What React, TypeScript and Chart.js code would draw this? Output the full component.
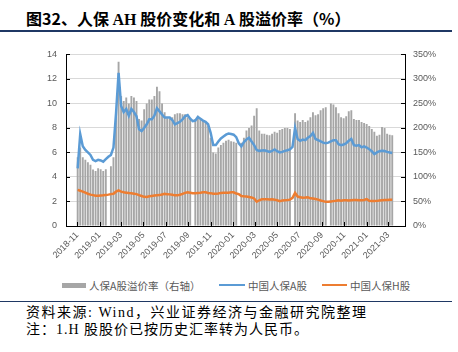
import React, { useEffect, useRef } from "react";
import { Chart, registerables } from "chart.js";

Chart.register(...registerables);

// ---------- data ----------
const AXIS_START = "2018-11-01";
const FIRST_WEEK = "2018-11-02";
const AXIS_END_DAYS = 866;

const tickLabels = [
  "2018-11", "2019-01", "2019-03", "2019-05", "2019-07", "2019-09", "2019-11",
  "2020-01", "2020-03", "2020-05", "2020-07", "2020-09", "2020-11", "2021-01", "2021-03",
];

// 中国人保A股 (元)
const aShare = [
  4.7, 7.5, 6.5, 6.2, 6.0, 5.8, 5.4, 5.3, 5.4, 5.35,
  5.25, 5.45, 5.65, 5.8, 6.4, 9.2, 12.5, 9.8, 9.3, 9.55,
  9.0, 9.55, 9.3, 8.95, 7.9, 7.75, 8.0, 8.3, 8.7, 8.7,
  9.0, 9.6, 9.35, 9.1, 8.85, 8.85, 8.85, 8.65, 8.3, 8.4,
  8.5, 8.7, 8.95, 9.05, 8.75, 8.55, 8.6, 8.9, 8.75, 8.6,
  8.5, 8.3, 7.6, 6.6, 6.6, 6.9, 7.15, 7.3, 7.45, 7.55,
  7.5, 7.45, 7.25, 6.75, 6.5, 6.85, 7.05, 7.2, 6.9, 6.6,
  6.2, 6.13, 6.15, 6.17, 6.12, 6.05, 6.12, 6.25, 6.1, 6.0,
  6.05, 6.13, 6.18, 6.25, 6.45, 8.0, 7.1, 6.95, 7.05, 7.0,
  7.2, 7.34, 7.6, 7.1, 7.0, 6.9, 6.8, 6.75, 6.8, 6.9,
  7.0, 7.0, 6.67, 6.6, 6.65, 6.75, 6.95, 7.1, 6.6, 6.55,
  6.6, 6.42, 6.5, 6.4, 6.27, 6.1, 5.86, 6.0, 6.1, 6.13,
  6.12, 6.05, 6.0, 5.95,
];

// 中国人保H股 (元, 人民币)
const hShare = [
  2.95, 2.88, 2.8, 2.72, 2.63, 2.56, 2.52, 2.47, 2.46, 2.48,
  2.5, 2.53, 2.56, 2.6, 2.63, 2.8, 2.9, 2.8, 2.75, 2.72,
  2.69, 2.67, 2.64, 2.6, 2.52, 2.45, 2.38, 2.36, 2.42, 2.45,
  2.48, 2.5, 2.52, 2.57, 2.62, 2.6, 2.58, 2.55, 2.5, 2.5,
  2.55, 2.62, 2.7, 2.75, 2.72, 2.68, 2.68, 2.7, 2.72, 2.75,
  2.75, 2.7, 2.68, 2.63, 2.63, 2.65, 2.7, 2.72, 2.72, 2.72,
  2.75, 2.75, 2.65, 2.6, 2.45, 2.42, 2.4, 2.37, 2.33, 2.25,
  1.98, 2.1, 2.18, 2.18, 2.18, 2.16, 2.18, 2.15, 2.1, 2.03,
  2.08, 2.1, 2.12, 2.15, 2.3, 2.7, 2.4, 2.35, 2.3, 2.32,
  2.35, 2.26, 2.24, 2.2, 2.15, 2.08, 2.03, 1.97, 1.97, 2.0,
  2.03, 2.06, 2.1, 2.07, 2.1, 2.1, 2.08, 2.1, 2.12, 2.12,
  2.1, 2.1, 2.12, 2.2, 2.05, 2.03, 2.03, 2.05, 2.08, 2.1,
  2.12, 2.13, 2.15, 2.15,
];

// 人保A股溢价率 (%, 右轴)
const premium = [
  140, 160, 140, 135, 130, 125, 115, 112, 118, 116,
  112, 116, null, 122, 140, 230, 335, 265, 255, 262,
  250, 265, 262, 255, 218, 215, 238, 250, 258, 258,
  265, 284, 275, 250, 232, 220, 218, 222, 228, 230,
  230, 228, 228, 222, 218, null, 218, 225, 220, 215,
  212, 205, 180, 150, 148, 160, 165, 170, 174, 176,
  173, 172, 170, null, 170, 180, 195, 200, 205, 225,
  240, 195, 188, 188, 186, 185, 188, 192, 190, 196,
  198, 200, 200, 198, null, 230, 215, 212, 216, 212,
  215, 222, 232, 226, 228, 236, 240, 242, null, 250,
  248, 242, 230, 222, 220, 224, 234, 236, 218, 216,
  216, 212, 210, 208, 204, 198, 192, 184, 186, 202,
  200, 188, 186, 185,
];

const seriesNames = ["人保A股溢价率（右轴）", "中国人保A股", "中国人保H股"];
const colors = { bar: "#a6a6a6", a: "#5b9bd5", h: "#ed7d31" };

// ---------- helpers ----------
const daysBetween = (a: string, b: string) =>
  Math.round((Date.parse(b + "T00:00:00Z") - Date.parse(a + "T00:00:00Z")) / 86400000);
const firstOffset = daysBetween(AXIS_START, FIRST_WEEK);
const weekX = aShare.map((_, i) => firstOffset + 7 * i);
const tickDays = tickLabels.map((l) => daysBetween(AXIS_START, l + "-01"));

const innerTicks = {
  id: "innerTicks",
  afterDraw(chart: any) {
    const { ctx, chartArea, scales } = chart;
    ctx.save();
    ctx.strokeStyle = "#000";
    ctx.lineWidth = 1;
    ctx.beginPath();
    scales.y.ticks.forEach((t: any) => {
      const py = Math.round(scales.y.getPixelForValue(t.value)) + 0.5;
      ctx.moveTo(chartArea.left, py);
      ctx.lineTo(chartArea.left + 4, py);
    });
    scales.y1.ticks.forEach((t: any) => {
      const py = Math.round(scales.y1.getPixelForValue(t.value)) + 0.5;
      ctx.moveTo(chartArea.right, py);
      ctx.lineTo(chartArea.right - 4, py);
    });
    scales.x.ticks.forEach((t: any) => {
      const px = Math.round(scales.x.getPixelForValue(t.value)) + 0.5;
      ctx.moveTo(px, chartArea.bottom);
      ctx.lineTo(px, chartArea.bottom - 4);
    });
    ctx.stroke();
    ctx.restore();
  },
};

const tickFont = { family: "'Liberation Sans', Arial, sans-serif", size: 9 };
const CJK = "'Noto Sans CJK SC', sans-serif";
const SERIF = "'Liberation Serif', 'Times New Roman', serif";

export default function App() {
  const ref = useRef<HTMLCanvasElement | null>(null);

  useEffect(() => {
    if (!ref.current) return;
    const chart = new Chart(ref.current, {
      type: "bar",
      data: {
        datasets: [
          {
            type: "line",
            label: seriesNames[1],
            data: weekX.map((x, i) => ({ x, y: aShare[i] })),
            borderColor: colors.a,
            borderWidth: 2.5,
            pointRadius: 0,
            tension: 0,
            yAxisID: "y",
            order: 1,
          },
          {
            type: "line",
            label: seriesNames[2],
            data: weekX.map((x, i) => ({ x, y: hShare[i] })),
            borderColor: colors.h,
            borderWidth: 2.5,
            pointRadius: 0,
            tension: 0,
            yAxisID: "y",
            order: 2,
          },
          {
            type: "bar",
            label: seriesNames[0],
            data: weekX.map((x, i) => ({ x, y: premium[i] })),
            backgroundColor: colors.bar,
            barPercentage: 1,
            categoryPercentage: 0.74,
            yAxisID: "y1",
            order: 3,
          },
        ] as any,
      },
      options: {
        animation: false,
        responsive: false,
        maintainAspectRatio: false,
        layout: { padding: { top: 12, left: 0, right: 0, bottom: 0 } },
        plugins: { legend: { display: false }, tooltip: { enabled: false } },
        scales: {
          x: {
            type: "linear",
            min: 0,
            max: AXIS_END_DAYS,
            afterBuildTicks: (s: any) => {
              s.ticks = tickDays.map((v) => ({ value: v }));
            },
            afterFit: (s: any) => {
              s.height = 49;
            },
            grid: { display: false, drawOnChartArea: false, drawTicks: false },
            border: { display: true, color: "#000", width: 1, z: 1 },
            ticks: {
              autoSkip: false,
              minRotation: 45,
              maxRotation: 45,
              padding: 4,
              color: "#595959",
              font: tickFont,
              callback: (_v: any, i: number) => tickLabels[i],
            },
          },
          y: {
            position: "left",
            min: 0,
            max: 14,
            afterFit: (s: any) => {
              s.width = 66;
            },
            grid: { color: "#d9d9d9", drawTicks: false },
            border: { color: "#000", width: 1, z: 1 },
            ticks: { stepSize: 2, padding: 9, color: "#595959", font: tickFont },
          },
          y1: {
            position: "right",
            min: 0,
            max: 350,
            afterFit: (s: any) => {
              s.width = 53;
            },
            grid: { drawOnChartArea: false, drawTicks: false },
            border: { color: "#000", width: 1, z: 1 },
            ticks: {
              stepSize: 50,
              padding: 8,
              color: "#595959",
              font: tickFont,
              callback: (v: any) => v + "%",
            },
          },
        } as any,
      },
      plugins: [innerTicks],
    });
    return () => chart.destroy();
  }, []);

  const legendText: React.CSSProperties = {
    fontFamily: CJK,
    fontSize: "10.5px",
    color: "#595959",
    marginLeft: 3,
    whiteSpace: "nowrap",
  };
  const item = (left: number): React.CSSProperties => ({
    position: "absolute",
    left,
    top: 277,
    height: 16,
    display: "flex",
    alignItems: "center",
  });
  const footer = (top: number, spacing: string): React.CSSProperties => ({
    position: "absolute",
    left: 26,
    top,
    lineHeight: "18px",
    fontSize: "14px",
    letterSpacing: spacing,
    fontFamily: `'Liberation Serif', ${CJK}`,
    color: "#000",
    whiteSpace: "nowrap",
  });

  return (
    <div style={{ position: "absolute", left: 0, top: 0, width: 458, height: 352, background: "#fff", overflow: "hidden" }}>
      <div
        style={{
          position: "absolute",
          left: 26,
          top: 8,
          lineHeight: "20px",
          fontSize: "16px",
          fontWeight: "bold",
          fontFamily: CJK,
          whiteSpace: "nowrap",
          color: "#000",
        }}
      >
        图32、人保 <span style={{ fontFamily: SERIF }}>AH</span> 股价变化和{" "}
        <span style={{ fontFamily: SERIF }}>A</span> 股溢价率（%）
      </div>
      <div style={{ position: "absolute", left: 0, top: 29.5, width: 452, height: 2, background: "#1f3864" }} />

      <canvas
        ref={ref}
        width={458}
        height={235}
        style={{ position: "absolute", left: 0, top: 40, width: 458, height: 235 }}
      />

      <div style={item(62)}>
        <div style={{ width: 24, height: 5, background: colors.bar }} />
        <span style={legendText}>{seriesNames[0]}</span>
      </div>
      <div style={item(219)}>
        <div style={{ width: 26, height: 2.5, background: colors.a }} />
        <span style={legendText}>{seriesNames[1]}</span>
      </div>
      <div style={item(322)}>
        <div style={{ width: 25, height: 2.5, background: colors.h }} />
        <span style={legendText}>{seriesNames[2]}</span>
      </div>

      <div style={{ position: "absolute", left: 0, top: 300.5, width: 452, height: 1.5, background: "#1f3864" }} />
      <div style={footer(304, "1.5px")}>资料来源: Wind，兴业证券经济与金融研究院整理</div>
      <div style={footer(321, "1px")}>注：1.H 股股价已按历史汇率转为人民币。</div>
    </div>
  );
}
